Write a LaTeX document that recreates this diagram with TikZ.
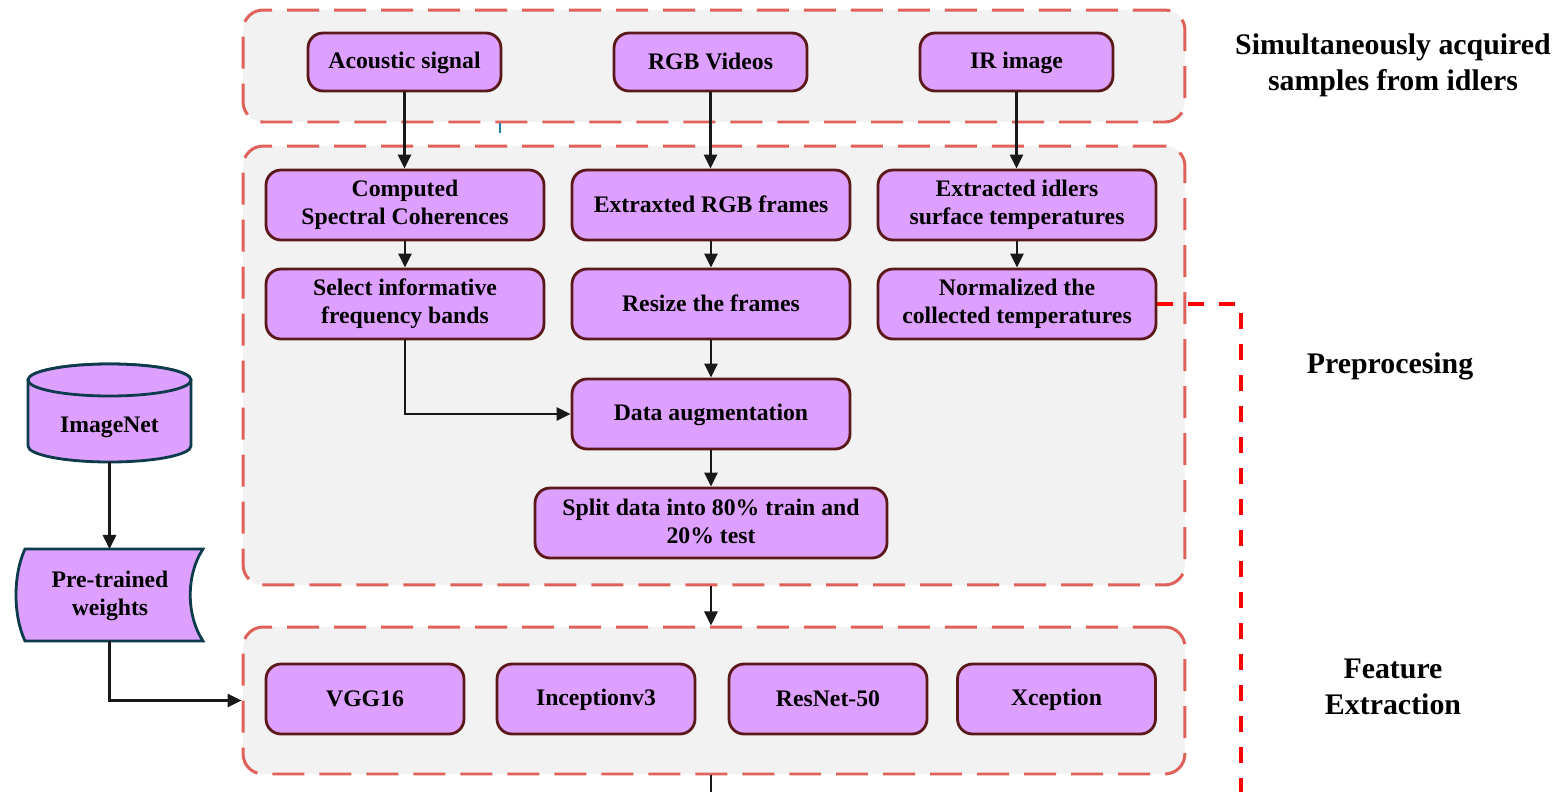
\documentclass[tikz,border=0pt]{standalone}
\usepackage{fontspec}
\setmainfont{Liberation Serif}
\usetikzlibrary{arrows.meta}
\definecolor{nodefill}{HTML}{DDA0FF}
\definecolor{nodeedge}{HTML}{5A1818}
\definecolor{grpfill}{HTML}{F2F2F2}
\definecolor{grpedge}{HTML}{E0605A}
\definecolor{dbedge}{HTML}{0D3B4C}
\definecolor{tickcol}{HTML}{1F7FA5}
\definecolor{reddash}{HTML}{FF0000}
\newcommand{\topstrut}{\rule{0pt}{10.5pt}}
\newcommand{\botstrut}{\rule[-1.5pt]{0pt}{1.5pt}}
\begin{document}
\begin{tikzpicture}[x=0.02cm,y=-0.02cm,
 proc/.style={draw=nodeedge, fill=nodefill, line width=1.6pt, rounded corners=0.3cm, align=center, font=\fontsize{13.5}{16}\selectfont\bfseries, inner sep=2pt, execute at begin node=\topstrut, execute at end node=\botstrut},
 grp/.style={draw=grpedge, fill=grpfill, line width=1.7pt, rounded corners=0.4cm, dash pattern=on 0.64cm off 0.3cm},
 arr/.style={line width=1.4pt, draw=black!90, -{Triangle[length=8pt,width=7.5pt]}},
 plain/.style={line width=1.4pt, draw=black!90},
 lbl/.style={align=center, font=\fontsize{17}{20.5}\selectfont\bfseries},
 dbshape/.style={draw=dbedge, fill=nodefill, line width=1.6pt},
 txt/.style={align=center, font=\fontsize{13.5}{16}\selectfont\bfseries},
]
\useasboundingbox (0,0) rectangle (1563,792);

% groups
\node[grp, minimum width=18.84cm, minimum height=2.24cm] (g1) at (714,66) {};
\node[grp, minimum width=18.84cm, minimum height=8.78cm] (g2) at (714,365.5) {};
\node[grp, minimum width=18.84cm, minimum height=2.94cm] (g3) at (714,700.5) {};

% stray tick
\coordinate (tk1) at (500,123);
\coordinate (tk2) at (500,133);
\draw[tickcol, line width=1.2pt] (tk1) -- (tk2);

% top row
\node[proc, minimum width=3.86cm, minimum height=1.16cm] (acou) at (404.5,62) {Acoustic signal};
\node[proc, minimum width=3.86cm, minimum height=1.16cm] (rgb) at (710.5,62) {RGB Videos};
\node[proc, minimum width=3.86cm, minimum height=1.16cm] (ir) at (1016.5,62) {IR image};

% row 2
\node[proc, minimum width=5.56cm, minimum height=1.4cm] (csc) at (405,205) {Computed\\Spectral Coherences};
\node[proc, minimum width=5.56cm, minimum height=1.4cm] (erf) at (711,205) {Extraxted RGB frames};
\node[proc, minimum width=5.56cm, minimum height=1.4cm] (eis) at (1017,205) {Extracted idlers\\surface temperatures};

% row 3
\node[proc, minimum width=5.56cm, minimum height=1.4cm] (sel) at (405,304) {Select informative\\frequency bands};
\node[proc, minimum width=5.56cm, minimum height=1.4cm] (res) at (711,304) {Resize the frames};
\node[proc, minimum width=5.56cm, minimum height=1.4cm] (nor) at (1017,304) {Normalized the\\collected temperatures};

\node[proc, minimum width=5.56cm, minimum height=1.4cm] (aug) at (711,414) {Data augmentation};
\node[proc, minimum width=7.04cm, minimum height=1.4cm] (spl) at (711,523) {Split data into 80\% train and\\20\% test};

% feature extraction
\node[proc, minimum width=3.96cm, minimum height=1.4cm] (vgg) at (365,699) {VGG16};
\node[proc, minimum width=3.96cm, minimum height=1.4cm] (inc) at (596,699) {Inceptionv3};
\node[proc, minimum width=3.96cm, minimum height=1.4cm] (rsn) at (828,699) {ResNet-50};
\node[proc, minimum width=3.96cm, minimum height=1.4cm] (xcp) at (1056.5,699) {Xception};

% ImageNet cylinder
\draw[dbshape] (28,380) -- (28,446) arc[start angle=180, end angle=360, x radius=1.63cm, y radius=0.32cm] -- (191,380) arc[start angle=0, end angle=180, x radius=1.63cm, y radius=0.32cm] -- cycle;
\draw[dbshape] (109.5,380) ellipse [x radius=1.63cm, y radius=0.32cm];
\node[txt] (imn) at (109.5,427) {ImageNet};
\coordinate (imnb) at (109.5,462);

% stored data shape
\draw[dbshape] (25,549) -- (203,549) .. controls (186,575) and (186,615) .. (203,641) -- (25,641) .. controls (13,615) and (13,575) .. (25,549) -- cycle;
\node[txt] (ptw) at (110,596) {Pre-trained\\weights};
\coordinate (ptwt) at (109.5,549);
\coordinate (ptwb) at (109.5,641);

% labels
\node[lbl] (l1) at (1393,65) {Simultaneously acquired\\samples from idlers};
\node[lbl] (l2) at (1390,366) {Preprocesing};
\node[lbl] (l3) at (1393,687) {Feature\\Extraction};

% arrows
\draw[arr] (acou.south) -- (csc.north -| acou.south);
\draw[arr] (rgb.south) -- (erf.north -| rgb.south);
\draw[arr] (ir.south) -- (eis.north -| ir.south);
\draw[arr] (csc.south) -- (sel.north);
\draw[arr] (erf.south) -- (res.north);
\draw[arr] (eis.south) -- (nor.north);
\draw[arr] (sel.south) |- (aug.west);
\draw[arr] (res.south) -- (aug.north);
\draw[arr] (aug.south) -- (spl.north);
\draw[arr] (g2.south -| spl.south) -- (g3.north -| spl.south);
\coordinate (bot) at (711,792);
\draw[plain] (g3.south -| bot) -- (bot);
\draw[arr] (imnb) -- (ptwt);
\draw[arr] (ptwb) |- (g3.west);

% red dashed connector
\coordinate (rd1) at (1241,304);
\coordinate (rd2) at (1241,792);
\draw[reddash, line width=2.8pt, dash pattern=on 0.32cm off 0.3cm] (nor.east) -- (rd1) -- (rd2);
\end{tikzpicture}
\end{document}
